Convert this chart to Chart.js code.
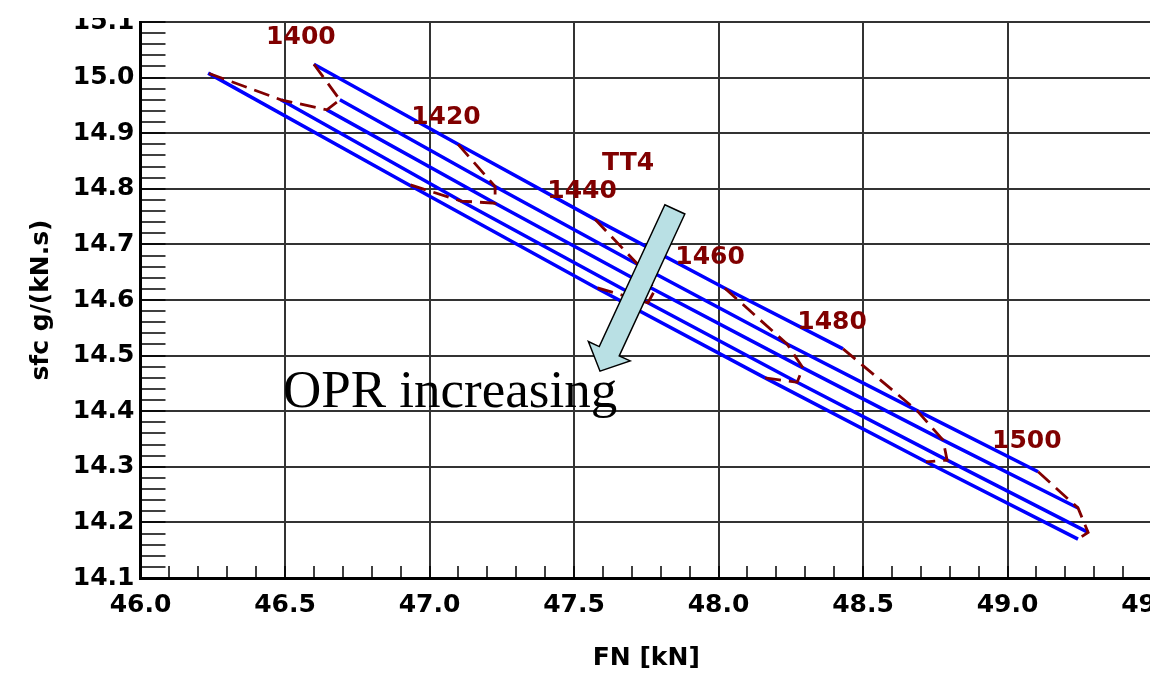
<!DOCTYPE html>
<html>
<head>
<meta charset="utf-8">
<script src="https://cdn.jsdelivr.net/npm/chart.js@4.4.0/dist/chart.umd.min.js"></script>
<style>
html, body { margin: 0; padding: 0; overflow: hidden; background: #fff; }
#wrap { position: relative; width: 1150px; height: 674px; overflow: hidden; }
#chart { position: absolute; left: 0; top: 0; }
#topMask { position: absolute; left: 0; top: 0; width: 1150px; height: 18px; background: #fff; }
</style>
</head>
<body>
<div id="wrap">
  <canvas id="chart" width="1200" height="674"></canvas>
  <div id="topMask"></div>
</div>
<script>
// TT4 levels of the dashed constant-temperature curves
var tt4 = [1400, 1420, 1440, 1460, 1480, 1500];

// one FN / sfc pair per OPR line, lowest OPR first (null = not reached)
var fn1  = [46.600, 47.099, 47.573, 48.022, 48.431, null];
var sfc1 = [15.024, 14.880, 14.745, 14.621, 14.512, null];
var fn2  = [46.690, 47.227, 47.721, 48.237, 48.687, 49.106];
var sfc2 = [14.960, 14.804, 14.664, 14.521, 14.401, 14.291];
var fn3  = [46.645, 47.227, 47.780, 48.292, 48.777, 49.244];
var sfc3 = [14.942, 14.774, 14.618, 14.478, 14.348, 14.226];
var fn4  = [46.486, 47.109, 47.756, 48.272, 48.791, 49.279];
var sfc4 = [14.960, 14.778, 14.595, 14.452, 14.312, 14.182];
var fn5  = [46.234, 46.922, 47.573, 48.161, 48.718, 49.244];
var sfc5 = [15.008, 14.809, 14.623, 14.460, 14.309, 14.170];

// text tags on the plot, in axis units
var tagText = ['1400', '1420', 'TT4', '1440', '1460', '1480', '1500'];
var tagFn   = [46.555, 47.057, 47.687, 47.528, 47.971, 48.393, 49.067];
var tagSfc  = [15.073, 14.929, 14.845, 14.796, 14.676, 14.560, 14.345];

var noteText = 'OPR increasing';
var noteFn = 46.493, noteSfc = 14.408;

// arrow from tail to tip, in axis units
var arrowFn  = [47.849, 47.590];
var arrowSfc = [14.763, 14.472];

var fnLines = [fn1, fn2, fn3, fn4, fn5];
var sfcLines = [sfc1, sfc2, sfc3, sfc4, sfc5];

function pts(xs, ys) {
  var out = [];
  for (var i = 0; i < xs.length; i++) {
    if (xs[i] != null) out.push({x: xs[i], y: ys[i]});
  }
  return out;
}

function isStep(v, s) {
  return Math.abs(v / s - Math.round(v / s)) < 1e-6;
}

var datasets = [];

// dashed TT4 curves across the OPR lines
tt4.forEach(function (t, i) {
  datasets.push({
    label: 'TT4 ' + t,
    data: pts(fnLines.map(function (a) { return a[i]; }), sfcLines.map(function (a) { return a[i]; })),
    showLine: true,
    borderColor: '#800000',
    borderWidth: 2.8,
    borderDash: [16, 8],
    pointRadius: 0
  });
});

// blue OPR lines
fnLines.forEach(function (xs, k) {
  datasets.push({
    label: 'OPR ' + (k + 1),
    data: pts(xs, sfcLines[k]),
    showLine: true,
    borderColor: '#0000ff',
    borderWidth: 3.5,
    pointRadius: 0
  });
});

var overlay = {
  id: 'overlay',
  afterDatasetsDraw: function (chart) {
    var c = chart.ctx, xs = chart.scales.x, ys = chart.scales.y;
    c.save();

    // arrow
    var tx = xs.getPixelForValue(arrowFn[0]), ty = ys.getPixelForValue(arrowSfc[0]);
    var px = xs.getPixelForValue(arrowFn[1]), py = ys.getPixelForValue(arrowSfc[1]);
    var len = Math.hypot(px - tx, py - ty);
    var ux = (px - tx) / len, uy = (py - ty) / len;
    var nx = -uy, ny = ux;
    var sw = 11, hw = 23, hl = 22;
    var bx = px - ux * hl, by = py - uy * hl;
    c.beginPath();
    c.moveTo(tx + nx * sw, ty + ny * sw);
    c.lineTo(bx + nx * sw, by + ny * sw);
    c.lineTo(bx + nx * hw, by + ny * hw);
    c.lineTo(px, py);
    c.lineTo(bx - nx * hw, by - ny * hw);
    c.lineTo(bx - nx * sw, by - ny * sw);
    c.lineTo(tx - nx * sw, ty - ny * sw);
    c.closePath();
    c.fillStyle = '#b9e0e4';
    c.fill();
    c.lineWidth = 1.5;
    c.strokeStyle = '#000';
    c.stroke();

    // TT4 tags
    c.fillStyle = '#800000';
    c.font = 'bold 25px "DejaVu Sans"';
    c.textAlign = 'center';
    c.textBaseline = 'middle';
    for (var i = 0; i < tagText.length; i++) {
      c.fillText(tagText[i], xs.getPixelForValue(tagFn[i]), ys.getPixelForValue(tagSfc[i]));
    }

    // note
    c.fillStyle = '#000';
    c.font = '53px "Liberation Serif"';
    c.textAlign = 'left';
    c.textBaseline = 'alphabetic';
    c.fillText(noteText, xs.getPixelForValue(noteFn), ys.getPixelForValue(noteSfc));
    c.restore();
  }
};

Chart.defaults.font.family = '"DejaVu Sans"';
Chart.defaults.font.size = 25;
Chart.defaults.font.weight = 'bold';
Chart.defaults.color = '#000';

new Chart(document.getElementById('chart'), {
  type: 'scatter',
  data: {datasets: datasets},
  options: {
    responsive: false,
    animation: false,
    events: [],
    layout: {padding: {top: 22, right: 48, bottom: 0, left: 0}},
    plugins: {legend: {display: false}, tooltip: {enabled: false}},
    scales: {
      x: {
        type: 'linear',
        min: 46,
        max: 49.5,
        afterFit: function (s) { s.height = 96; s.paddingLeft = 0; s.paddingRight = 0; },
        border: {color: '#000', width: 3},
        grid: {
          color: function (ctx) { return ctx.tick && isStep(ctx.tick.value, 0.5) ? '#333' : 'rgba(0,0,0,0)'; },
          lineWidth: 2,
          tickLength: -12,
          tickColor: '#000',
          tickWidth: 1.5
        },
        ticks: {
          stepSize: 0.1,
          autoSkip: false,
          maxRotation: 0,
          minRotation: 0,
          padding: 24,
          callback: function (v) { return isStep(v, 0.5) ? v.toFixed(1) : ''; }
        },
        title: {display: true, text: 'FN [kN]', padding: {top: 0, bottom: 1}}
      },
      y: {
        type: 'linear',
        min: 14.1,
        max: 15.1,
        afterFit: function (s) { s.width = 140.5; s.paddingTop = 0; s.paddingBottom = 0; },
        border: {color: '#000', width: 3},
        grid: {
          color: function (ctx) { return ctx.tick && isStep(ctx.tick.value, 0.1) ? '#333' : 'rgba(0,0,0,0)'; },
          lineWidth: 2,
          tickLength: -25,
          tickColor: '#000',
          tickWidth: 1.5
        },
        ticks: {
          stepSize: 0.02,
          autoSkip: false,
          padding: 31,
          callback: function (v) { return isStep(v, 0.1) ? v.toFixed(1) : ''; }
        },
        title: {display: true, text: 'sfc g/(kN.s)', padding: {top: 26, bottom: 0}}
      }
    }
  },
  plugins: [overlay]
});
</script>
</body>
</html>
